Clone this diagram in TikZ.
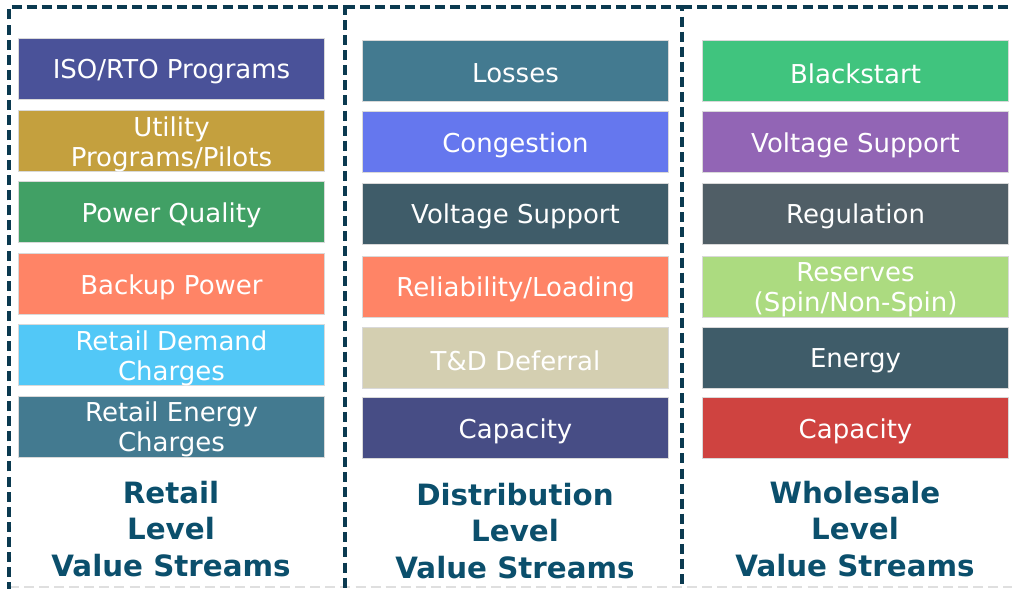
\documentclass[tikz,border=0pt]{standalone}
\usepackage{fontspec}
\setmainfont{DejaVu Sans}
\definecolor{frame}{HTML}{0B3A50}
\definecolor{title}{HTML}{0B4F6C}
\definecolor{cA}{HTML}{4A5299}
\definecolor{cB}{HTML}{C4A03E}
\definecolor{cC}{HTML}{41A065}
\definecolor{cD}{HTML}{FF8466}
\definecolor{cE}{HTML}{52C8F7}
\definecolor{cF}{HTML}{437A90}
\definecolor{cG}{HTML}{6577EE}
\definecolor{cH}{HTML}{3F5C69}
\definecolor{cI}{HTML}{D4CFB1}
\definecolor{cJ}{HTML}{474D85}
\definecolor{cK}{HTML}{40C47E}
\definecolor{cL}{HTML}{9265B5}
\definecolor{cM}{HTML}{505E66}
\definecolor{cN}{HTML}{ACDB80}
\definecolor{cO}{HTML}{CF4340}
\tikzset{
  colframe/.style={draw=frame, line width=2.3pt, dash pattern=on 7.5pt off 3.8pt},
  vbox/.style={draw=white!85!black, line width=0.4pt, minimum width=229.5pt, minimum height=46pt,
    inner sep=0pt},
  lbl/.style={inner sep=0pt, yshift=-2.3pt, align=center, text=white, font=\fontsize{19.5pt}{22.5pt}\selectfont},
  ttl/.style={align=center, text=title, font=\fontsize{22pt}{27.4pt}\selectfont\bfseries},
}
\begin{document}
\begin{tikzpicture}[x=0.75pt,y=-0.75pt]
\useasboundingbox (0,0) rectangle (1012,588);
\fill[white] (0,0) rectangle (1012,588);
% bottom faint edge
\draw[gray!25, line width=1.5pt, dash pattern=on 7.5pt off 3.8pt] (9,587) -- (1012,587);
% column frames
\draw[colframe] (9,592) -- (9,7) -- (345,7) -- (345,592);
\draw[colframe] (345,7) -- (682,7) -- (682,592);
\draw[colframe] (682,7) -- (1020,7);
% column 1
\node[vbox, fill=cA, label={[lbl]center:ISO/RTO Programs}] (r1) at (171.5,68.5) {};
\node[vbox, fill=cB, label={[lbl]center:Utility\\Programs/Pilots}] (r2) at (171.5,141) {};
\node[vbox, fill=cC, label={[lbl]center:Power Quality}] (r3) at (171.5,212) {};
\node[vbox, fill=cD, label={[lbl]center:Backup Power}] (r4) at (171.5,284) {};
\node[vbox, fill=cE, label={[lbl]center:Retail Demand\\Charges}] (r5) at (171.5,355) {};
\node[vbox, fill=cF, label={[lbl]center:Retail Energy\\Charges}] (r6) at (171.5,426.5) {};
\node[ttl] (t1) at (171,529) {Retail\\Level\\Value Streams};
% column 2
\node[vbox, fill=cF, label={[lbl]center:Losses}] (d1) at (515.5,70.5) {};
\node[vbox, fill=cG, label={[lbl]center:Congestion}] (d2) at (515.5,142) {};
\node[vbox, fill=cH, label={[lbl]center:Voltage Support}] (d3) at (515.5,213.5) {};
\node[vbox, fill=cD, label={[lbl]center:Reliability/Loading}] (d4) at (515.5,286.5) {};
\node[vbox, fill=cI, label={[lbl]center:T\&D Deferral}] (d5) at (515.5,358) {};
\node[vbox, fill=cJ, label={[lbl]center:Capacity}] (d6) at (515.5,428) {};
\node[ttl] (t2) at (515,531) {Distribution\\Level\\Value Streams};
% column 3
\node[vbox, fill=cK, label={[lbl]center:Blackstart}] (w1) at (855.5,70.5) {};
\node[vbox, fill=cL, label={[lbl]center:Voltage Support}] (w2) at (855.5,142) {};
\node[vbox, fill=cM, label={[lbl]center:Regulation}] (w3) at (855.5,213.5) {};
\node[vbox, fill=cN, label={[lbl]center:Reserves\\(Spin/Non-Spin)}] (w4) at (855.5,286.5) {};
\node[vbox, fill=cH, label={[lbl]center:Energy}] (w5) at (855.5,358) {};
\node[vbox, fill=cO, label={[lbl]center:Capacity}] (w6) at (855.5,428) {};
\node[ttl] (t3) at (855,529) {Wholesale\\Level\\Value Streams};
\end{tikzpicture}
\end{document}
